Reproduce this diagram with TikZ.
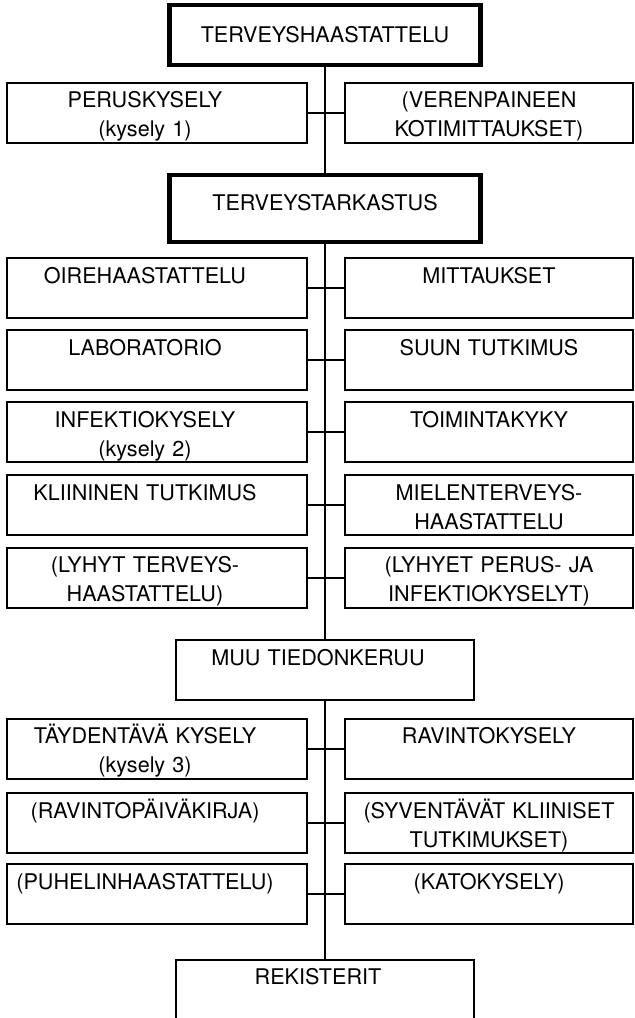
\documentclass[tikz,border=0pt]{standalone}
\usepackage{fontspec}
\setmainfont{TeX Gyre Heros}

\tikzset{
    laatikko/.style={draw, line width=1pt, align=center, inner xsep=2pt, inner ysep=0pt,
        font=\fontsize{10.8}{14.5}\selectfont, text height=12.5pt, text depth=17.5pt},
    vasen/.style={laatikko, text width=146pt, execute at begin node={\advance\rightskip 12pt\relax}},
    oikea/.style={laatikko, text width=140pt},
    keski/.style={laatikko, text width=145pt, execute at begin node={\advance\rightskip 7pt\relax}},
    paa/.style={laatikko, text width=151.5pt, line width=2.2pt},
    yhteys/.style={line width=1pt}
}

\begin{document}
\begin{tikzpicture}[x=1pt, y=1pt]
    % --- 定义坐标和参数 ---
    \def\xL{78.5}     % 左列中心
    \def\xR{244.5}    % 右列中心
    \def\xM{162.5}    % 主干位置

    % 固定画面大小 (635 x 1018 像素)
    \useasboundingbox (0, 0) rectangle (317.5, -509);

    % --- 第一部分: 健康访谈 ---
    \node[paa, text height=18.5pt, text depth=11.5pt] (haast) at (\xM, -17.5) {TERVEYSHAASTATTELU};
    \node[vasen] (perus) at (\xL, -56.25) {PERUSKYSELY\\(kysely 1)};
    \node[oikea] (verenp) at (\xR, -56.25) {(VERENPAINEEN\\KOTIMITTAUKSET)};

    % --- 第二部分: 健康检查 ---
    \node[paa, text height=17.5pt, text depth=16pt] (tark) at (\xM, -104.25) {TERVEYSTARKASTUS};
    \node[vasen] (oire) at (\xL, -144) {OIREHAASTATTELU};
    \node[oikea] (mitt) at (\xR, -144) {MITTAUKSET};
    \node[vasen] (lab) at (\xL, -180) {LABORATORIO};
    \node[oikea] (suun) at (\xR, -180) {SUUN TUTKIMUS};
    \node[vasen] (infek) at (\xL, -216) {INFEKTIOKYSELY\\(kysely 2)};
    \node[oikea] (toim) at (\xR, -216) {TOIMINTAKYKY};
    \node[vasen] (kliin) at (\xL, -252.5) {KLIININEN TUTKIMUS};
    \node[oikea] (miel) at (\xR, -252.5) {MIELENTERVEYS-\\HAASTATTELU};
    \node[vasen] (lyhyt) at (\xL, -288.75) {(LYHYT TERVEYS-\\HAASTATTELU)};
    \node[oikea] (lyhyet) at (\xR, -288.75) {(LYHYET PERUS- JA\\INFEKTIOKYSELYT)};

    % --- 第三部分: 其他数据收集 ---
    \node[keski] (muu) at (\xM, -335) {MUU TIEDONKERUU};
    \node[vasen] (tayd) at (\xL, -374.25) {TÄYDENTÄVÄ KYSELY\\(kysely 3)};
    \node[oikea] (ravk) at (\xR, -374.25) {RAVINTOKYSELY};
    \node[vasen] (ravp) at (\xL, -411.5) {(RAVINTOPÄIVÄKIRJA)};
    \node[oikea] (syv) at (\xR, -411.5) {(SYVENTÄVÄT KLIINISET\\TUTKIMUKSET)};
    \node[vasen] (puhel) at (\xL, -447) {(PUHELINHAASTATTELU)};
    \node[oikea] (kato) at (\xR, -447) {(KATOKYSELY)};

    % --- 第四部分: 登记 ---
    \node[keski] (rek) at (\xM, -494.75) {REKISTERIT};

    % --- 主干连线 ---
    \draw[yhteys] (haast.south) -- (tark.north);
    \draw[yhteys] (tark.south) -- (muu.north);
    \draw[yhteys] (muu.south) -- (rek.north);

    % --- 左右横向连线 ---
    \draw[yhteys] (perus.east) -- (verenp.west);
    \draw[yhteys] (oire.east) -- (mitt.west);
    \draw[yhteys] (lab.east) -- (suun.west);
    \draw[yhteys] (infek.east) -- (toim.west);
    \draw[yhteys] (kliin.east) -- (miel.west);
    \draw[yhteys] (lyhyt.east) -- (lyhyet.west);
    \draw[yhteys] (tayd.east) -- (ravk.west);
    \draw[yhteys] (ravp.east) -- (syv.west);
    \draw[yhteys] (puhel.east) -- (kato.west);
\end{tikzpicture}
\end{document}
